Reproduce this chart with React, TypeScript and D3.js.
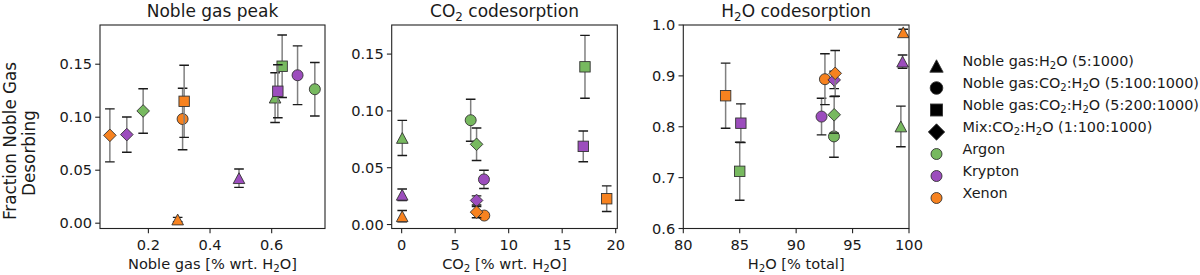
import React from "react";
import * as d3 from "d3";

const GASES = ["Argon", "Krypton", "Xenon"];
const GAS_COLORS = ["#77b95f", "#9c4dbd", "#f7821f"];
const EXPERIMENTS = [
  "Noble gas:H_2O (5:1000)",
  "Noble gas:CO_2:H_2O (5:100:1000)",
  "Noble gas:CO_2:H_2O (5:200:1000)",
  "Mix:CO_2:H_2O (1:100:1000)",
];
const SHAPES = ["triangle", "circle", "square", "diamond"];

// [experiment, gas, x, y, err]
const peakPoints = [
  [0, 0, 0.611, 0.1185, 0.0235],
  [0, 1, 0.494, 0.0425, 0.0087],
  [0, 2, 0.295, 0.0035, 0.002],
  [1, 0, 0.74, 0.1264, 0.0252],
  [1, 1, 0.684, 0.1396, 0.0277],
  [1, 2, 0.311, 0.0983, 0.029],
  [2, 0, 0.634, 0.1481, 0.0295],
  [2, 1, 0.62, 0.1245, 0.025],
  [2, 2, 0.316, 0.115, 0.034],
  [3, 0, 0.183, 0.1059, 0.021],
  [3, 1, 0.13, 0.0836, 0.0166],
  [3, 2, 0.075, 0.0829, 0.025],
];
const co2Points = [
  [0, 0, 0.06, 0.0762, 0.0155],
  [0, 1, 0.05, 0.0262, 0.005],
  [0, 2, 0.05, 0.0073, 0.005],
  [1, 0, 6.45, 0.0918, 0.0185],
  [1, 1, 7.69, 0.0397, 0.008],
  [1, 2, 7.72, 0.0079, 0.002],
  [2, 0, 17.13, 0.1388, 0.0277],
  [2, 1, 16.97, 0.0688, 0.0135],
  [2, 2, 19.16, 0.0227, 0.0113],
  [3, 0, 7.0, 0.0706, 0.0143],
  [3, 1, 7.0, 0.0212, 0.004],
  [3, 2, 7.0, 0.0109, 0.005],
];
const h2oPoints = [
  [0, 0, 99.28, 0.8006, 0.04],
  [0, 1, 99.43, 0.928, 0.013],
  [0, 2, 99.49, 0.9857, 0.006],
  [1, 0, 93.35, 0.781, 0.041],
  [1, 1, 92.25, 0.82, 0.036],
  [1, 2, 92.55, 0.8935, 0.05],
  [2, 0, 85.0, 0.7124, 0.057],
  [2, 1, 85.1, 0.807, 0.038],
  [2, 2, 83.75, 0.861, 0.064],
  [3, 0, 93.37, 0.8235, 0.036],
  [3, 1, 93.37, 0.892, 0.017],
  [3, 2, 93.46, 0.905, 0.045],
];

const peakXTicks = [0.2, 0.4, 0.6];
const co2XTicks = [0, 5, 10, 15, 20];
const h2oXTicks = [80, 85, 90, 95, 100];
const fracYTicks = [0, 0.05, 0.1, 0.15];
const h2oYTicks = [0.6, 0.7, 0.8, 0.9, 1.0];

const panels = [
  {
    id: "p1", title: "Noble gas peak", xlabel: "Noble gas [% wrt. H_2O]",
    left: 100, right: 325, xDomain: [0.043, 0.773], yDomain: [-0.005, 0.187],
    xTicks: peakXTicks, yTicks: fracYTicks, xFmt: ".1f", yFmt: ".2f", data: peakPoints,
  },
  {
    id: "p2", title: "CO_2 codesorption", xlabel: "CO_2 [% wrt. H_2O]",
    left: 391.7, right: 617.3, xDomain: [-0.93, 20.15], yDomain: [-0.0035, 0.1756],
    xTicks: co2XTicks, yTicks: fracYTicks, xFmt: "d", yFmt: ".2f", data: co2Points,
  },
  {
    id: "p3", title: "H_2O codesorption", xlabel: "H_2O [% total]",
    left: 683.3, right: 909, xDomain: [80, 100], yDomain: [0.6, 1.0],
    xTicks: h2oXTicks, yTicks: h2oYTicks, xFmt: "d", yFmt: ".1f", data: h2oPoints,
  },
];

const TOP = 25;
const BOTTOM = 228.5;
const FONT = "DejaVu Sans, Verdana, sans-serif";
const EDGE = "#333";
const TICK_FS = 14.6;
const LEGEND_FS = 14.4;

// text with matplotlib-like subscripts, "H_2O"
function rich(s: string, fs: number) {
  const parts = s.split(/_(\d)/);
  const shift = fs * 0.22;
  const out: any[] = [];
  let lowered = false;
  parts.forEach((p, i) => {
    if (i % 2 === 1) {
      out.push(<tspan key={i} dy={shift} fontSize={fs * 0.7}>{p}</tspan>);
      lowered = true;
    } else if (p.length) {
      out.push(<tspan key={i} dy={lowered ? -shift : 0}>{p}</tspan>);
      lowered = false;
    }
  });
  return out;
}

function Marker({ shape, x, y, fill, k = 1 }: any) {
  const stroke = { fill, stroke: EDGE, strokeWidth: 0.9 };
  if (shape === "circle") return <circle cx={x} cy={y} r={5.5 * k} {...stroke} />;
  if (shape === "square") {
    const s = 5.2 * k;
    return <rect x={x - s} y={y - s} width={2 * s} height={2 * s} {...stroke} />;
  }
  if (shape === "triangle") {
    const w = 5.8 * k, h = 5.4 * k;
    return <path d={`M${x},${y - h}L${x + w},${y + h}L${x - w},${y + h}Z`} {...stroke} />;
  }
  const d = 6.3 * k;
  return <path d={`M${x},${y - d}L${x + d},${y}L${x},${y + d}L${x - d},${y}Z`} {...stroke} />;
}

function Panel({ p }: any) {
  const x = d3.scaleLinear().domain(p.xDomain).range([p.left, p.right]);
  const y = d3.scaleLinear().domain(p.yDomain).range([BOTTOM, TOP]);
  const fx = d3.format(p.xFmt);
  const fy = d3.format(p.yFmt);
  const cx = (p.left + p.right) / 2;
  return (
    <g>
      <defs>
        <clipPath id={`clip-${p.id}`}>
          <rect x={p.left} y={TOP} width={p.right - p.left} height={BOTTOM - TOP} />
        </clipPath>
      </defs>
      <text x={cx} y={17} textAnchor="middle" fontSize={17}>{rich(p.title, 17)}</text>
      <g clipPath={`url(#clip-${p.id})`}>
        {p.data.map((d: number[], i: number) => {
          const [e, g, vx, vy, err] = d;
          const px = x(vx);
          const y0 = y(vy - err), y1 = y(vy + err);
          return (
            <g key={i}>
              <line x1={px} x2={px} y1={y0} y2={y1} stroke="#808080" strokeWidth={1.5} />
              <line x1={px - 4.8} x2={px + 4.8} y1={y0} y2={y0} stroke="#1a1a1a" strokeWidth={1.4} />
              <line x1={px - 4.8} x2={px + 4.8} y1={y1} y2={y1} stroke="#1a1a1a" strokeWidth={1.4} />
              <Marker shape={SHAPES[e]} x={px} y={y(vy)} fill={GAS_COLORS[g]} />
            </g>
          );
        })}
      </g>
      <rect x={p.left} y={TOP} width={p.right - p.left} height={BOTTOM - TOP}
        fill="none" stroke="#222" strokeWidth={1.1} />
      {p.xTicks.map((t: number) => (
        <g key={t}>
          <line x1={x(t)} x2={x(t)} y1={BOTTOM} y2={BOTTOM + 4.8} stroke="#222" strokeWidth={1.1} />
          <text x={x(t)} y={250} textAnchor="middle" fontSize={TICK_FS}>{fx(t)}</text>
        </g>
      ))}
      {p.yTicks.map((t: number) => (
        <g key={t}>
          <line x1={p.left - 4.8} x2={p.left} y1={y(t)} y2={y(t)} stroke="#222" strokeWidth={1.1} />
          <text x={p.left - 8} y={y(t)} dy="0.36em" textAnchor="end" fontSize={TICK_FS}>{fy(t)}</text>
        </g>
      ))}
      <text x={cx} y={268.5} textAnchor="middle" fontSize={14.6}>{rich(p.xlabel, 14.6)}</text>
    </g>
  );
}

export default function App() {
  const legendRows = [
    ...EXPERIMENTS.map((lab, i) => ({ lab, shape: SHAPES[i], fill: "#000", k: 1.15 })),
    ...GASES.map((lab, i) => ({ lab, shape: "circle", fill: GAS_COLORS[i], k: 1 })),
  ];
  const rowY = d3.scaleLinear().domain([0, 6]).range([66, 198]);
  return (
    <div style={{ position: "absolute", left: 0, top: 0 }}>
      <svg width={1200} height={275} style={{ display: "block", fontFamily: FONT }} fill="#1a1a1a">
        <rect width={1200} height={275} fill="#fff" />
        <g transform="translate(15.5,141) rotate(-90)">
          <text textAnchor="middle" fontSize={16.8}>Fraction Noble Gas</text>
        </g>
        <g transform="translate(34.5,153) rotate(-90)">
          <text textAnchor="middle" fontSize={16.8}>Desorbing</text>
        </g>
        {panels.map((p) => <Panel key={p.id} p={p} />)}
        {legendRows.map((r, i) => (
          <g key={i}>
            <Marker shape={r.shape} x={936.5} y={rowY(i)} fill={r.fill} k={r.shape === "diamond" ? 1.3 : r.k} />
            <text x={962.5} y={rowY(i)} dy="0.36em" fontSize={LEGEND_FS}>{rich(r.lab, LEGEND_FS)}</text>
          </g>
        ))}
      </svg>
    </div>
  );
}
